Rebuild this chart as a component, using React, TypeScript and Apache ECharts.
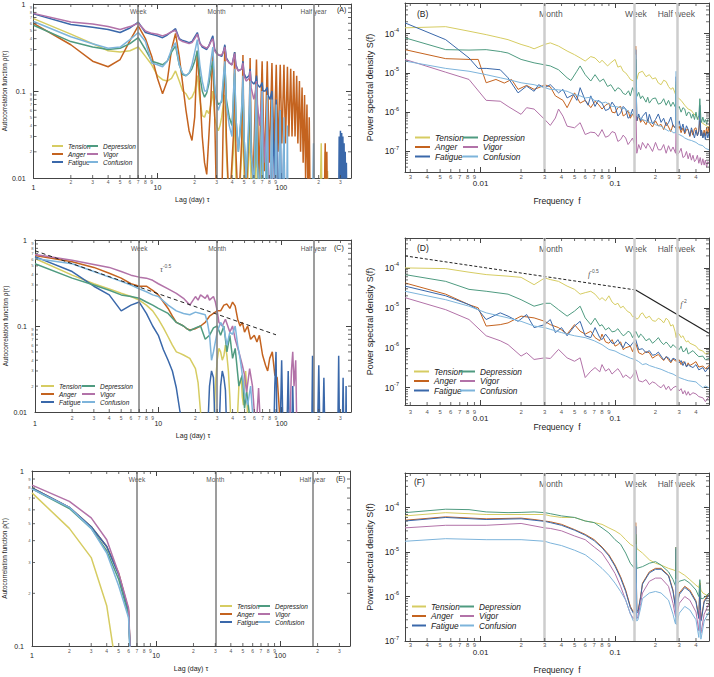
import React, { useEffect, useRef } from 'react';
import * as echarts from 'echarts';

type Pt = [number, number];

const moodNames = ['Tension', 'Anger', 'Fatigue', 'Depression', 'Vigor', 'Confusion'];
const moodColors = ['#d6cc62', '#c4631f', '#3a68aa', '#4f9b80', '#b272a8', '#7db4db'];

const acfRefLags = [7, 30, 182];
const acfRefLabels = ['Week', 'Month', 'Half year'];
const psdRefFreqs = [1 / 30, 1 / 7, 2 / 7];
const psdRefLabels = ['Month', 'Week', 'Half week'];

const lagDecades = [1, 10, 100];
const freqDecades = [0.001, 0.01, 0.1];
const minorDigits = [2, 3, 4, 5, 6, 7, 8, 9];
const acfYDecades = [0.01, 0.1];
const acfEYDecades = [0.1];
const psdYDecades = [1e-8, 1e-7, 1e-6, 1e-5, 1e-4];

// ---------- Panel A: autocorrelation (raw) ----------
const rawTension: Pt[] = [[1,0.68],[2,0.45],[3,0.35],[4,0.29],[5,0.28],[6,0.29],[7,0.32],[8,0.25],[9,0.2],[10,0.15],[11,0.135],[12,0.13],[13,0.14],[14,0.17],[15,0.13],[16,0.1],[17,0.093],[18,0.08],[19,0.085],[20,0.1],[21,0.15],[22,0.08],[23,0.052],[24,0.05],[25,0.06],[26,0.055],[27,0.07],[28,0.1],[29,0.05],[30,0.04],[31,0.035],[32,0.04],[33,0.05],[34,0.07],[35,0.09],[36,0.02],[38,0.004],[41,0.02],[42,0.07],[43,0.01],[45,0.004],[48,0.02],[49,0.065],[50,0.01],[52,0.004],[55,0.02],[56,0.055],[57,0.008],[60,0.004],[62,0.015],[63,0.05],[64,0.006],[67,0.004],[70,0.03],[71,0.004],[205,0.004],[210,0.025],[213,0.004],[222,0.005],[226,0.02],[229,0.004],[236,0.012],[240,0.004]];
const rawAnger: Pt[] = [[1,0.6],[2,0.34],[3,0.22],[4,0.19],[5,0.23],[6,0.38],[7,0.56],[8,0.4],[9,0.25],[10,0.14],[11,0.093],[12,0.13],[13,0.3],[14,0.46],[15,0.25],[16,0.12],[17,0.06],[18,0.035],[19,0.027],[20,0.05],[21,0.29],[22,0.1],[23,0.03],[24,0.015],[25,0.011],[26,0.03],[27,0.08],[28,0.3],[29,0.05],[30,0.005],[33,0.004],[34,0.05],[35,0.33],[36,0.03],[38,0.004],[41,0.03],[42,0.28],[43,0.02],[45,0.004],[48,0.03],[49,0.26],[50,0.02],[52,0.006],[55,0.04],[56,0.24],[57,0.03],[59,0.008],[63,0.23],[66,0.01],[70,0.22],[73,0.012],[77,0.22],[80,0.015],[84,0.21],[87,0.018],[91,0.2],[94,0.02],[98,0.2],[101,0.025],[105,0.2],[108,0.025],[112,0.19],[115,0.03],[119,0.18],[122,0.03],[126,0.17],[129,0.03],[133,0.15],[136,0.025],[140,0.13],[143,0.02],[147,0.11],[150,0.015],[154,0.09],[157,0.01],[161,0.07],[164,0.006],[168,0.05],[171,0.004],[222,0.005],[226,0.025],[229,0.004],[233,0.02],[236,0.004]];
const rawFatigue: Pt[] = [[1,0.77],[2,0.58],[3,0.54],[4,0.51],[5,0.47],[6,0.53],[7,0.62],[8,0.47],[9,0.45],[10,0.43],[11,0.41],[12,0.44],[13,0.48],[14,0.52],[15,0.4],[16,0.38],[17,0.37],[18,0.36],[19,0.37],[20,0.42],[21,0.47],[22,0.36],[23,0.32],[24,0.31],[25,0.3],[26,0.33],[27,0.38],[28,0.43],[29,0.3],[30,0.28],[31,0.26],[33,0.25],[34,0.28],[35,0.34],[36,0.24],[38,0.21],[40,0.2],[42,0.28],[43,0.2],[45,0.17],[48,0.18],[49,0.22],[50,0.16],[52,0.14],[55,0.15],[56,0.18],[57,0.13],[60,0.12],[62,0.13],[63,0.15],[64,0.12],[67,0.11],[70,0.125],[71,0.1],[74,0.1],[77,0.11],[78,0.09],[81,0.08],[84,0.1],[86,0.03],[88,0.01],[91,0.08],[93,0.01],[95,0.005],[98,0.06],[100,0.005],[102,0.004],[105,0.03],[107,0.004],[290,0.004],[293,0.03],[296,0.004],[300,0.035],[303,0.004],[307,0.033],[310,0.004],[314,0.03],[317,0.004],[321,0.025],[324,0.004],[328,0.02],[331,0.004],[335,0.015],[338,0.004]];
const rawDepression: Pt[] = [[1,0.57],[2,0.37],[3,0.32],[4,0.3],[5,0.31],[6,0.35],[7,0.41],[8,0.3],[9,0.22],[10,0.21],[11,0.2],[12,0.22],[13,0.28],[14,0.33],[15,0.2],[16,0.155],[17,0.15],[18,0.16],[19,0.18],[20,0.22],[21,0.29],[22,0.15],[23,0.1],[24,0.085],[25,0.095],[26,0.12],[27,0.17],[28,0.22],[29,0.1],[30,0.08],[31,0.07],[33,0.075],[34,0.12],[35,0.2],[36,0.08],[38,0.05],[40,0.04],[41,0.08],[42,0.16],[43,0.05],[45,0.02],[48,0.06],[49,0.13],[50,0.03],[52,0.01],[55,0.04],[56,0.1],[57,0.02],[60,0.007],[62,0.03],[63,0.08],[64,0.015],[67,0.006],[69,0.02],[70,0.06],[71,0.01],[74,0.005],[76,0.015],[77,0.05],[78,0.008],[81,0.005],[83,0.01],[84,0.03],[85,0.006],[88,0.004],[90,0.008],[91,0.02],[92,0.004],[95,0.004]];
const rawVigor: Pt[] = [[1,0.78],[2,0.62],[3,0.59],[4,0.55],[5,0.51],[6,0.55],[7,0.6],[8,0.49],[9,0.46],[10,0.45],[11,0.43],[12,0.45],[13,0.48],[14,0.5],[15,0.39],[16,0.37],[17,0.36],[18,0.35],[19,0.36],[20,0.4],[21,0.45],[22,0.35],[23,0.33],[24,0.32],[25,0.31],[26,0.33],[27,0.37],[28,0.4],[29,0.29],[30,0.27],[31,0.26],[33,0.26],[34,0.28],[35,0.32],[36,0.23],[38,0.21],[40,0.2],[42,0.27],[43,0.19],[45,0.17],[48,0.18],[49,0.21],[50,0.15],[52,0.13],[55,0.14],[56,0.17],[57,0.11],[60,0.08],[62,0.1],[63,0.13],[64,0.07],[67,0.04],[69,0.07],[70,0.1],[71,0.04],[74,0.015],[76,0.04],[77,0.07],[78,0.02],[81,0.005],[83,0.02],[84,0.05],[85,0.01],[88,0.004],[90,0.015],[91,0.035],[92,0.005],[95,0.004]];
const rawConfusion: Pt[] = [[1,0.63],[2,0.42],[3,0.35],[4,0.31],[5,0.32],[6,0.39],[7,0.47],[8,0.37],[9,0.21],[10,0.2],[11,0.19],[12,0.22],[13,0.3],[14,0.36],[15,0.2],[16,0.16],[17,0.15],[18,0.16],[19,0.2],[20,0.28],[21,0.39],[22,0.2],[23,0.13],[24,0.1],[25,0.1],[26,0.14],[27,0.22],[28,0.32],[29,0.12],[30,0.07],[31,0.06],[33,0.08],[34,0.14],[35,0.22],[36,0.07],[38,0.04],[40,0.03],[41,0.09],[42,0.18],[43,0.05],[45,0.02],[48,0.07],[49,0.15],[50,0.03],[52,0.01],[55,0.06],[56,0.13],[57,0.02],[60,0.008],[62,0.05],[63,0.12],[64,0.015],[67,0.006],[69,0.04],[70,0.1],[71,0.01],[74,0.005],[76,0.035],[77,0.09],[78,0.008],[81,0.005],[83,0.03],[84,0.08],[85,0.006],[88,0.004],[90,0.025],[91,0.07],[92,0.005],[95,0.004],[97,0.02],[98,0.06],[99,0.005],[102,0.004],[104,0.015],[105,0.05],[106,0.004],[109,0.003],[111,0.01],[112,0.04],[113,0.004],[116,0.003],[178,0.004],[182,0.025],[185,0.004]];

// ---------- Panel C: autocorrelation ----------
const smTension: Pt[] = [[1,0.61],[2,0.39],[3,0.31],[4,0.27],[5,0.24],[6,0.22],[7,0.2],[8,0.175],[9,0.15],[10,0.12],[11,0.095],[12,0.075],[13,0.06],[14,0.05],[15,0.048],[16,0.046],[18,0.042],[20,0.032],[21,0.022],[22,0.01],[23,0.006],[28,0.005],[29,0.02],[30,0.04],[31,0.055],[32,0.05],[33,0.04],[34,0.045],[35,0.06],[36,0.045],[37,0.03],[38,0.015],[39,0.006],[43,0.005],[45,0.02],[47,0.025],[48,0.015],[49,0.012],[51,0.03],[52,0.02],[53,0.008],[55,0.004]];
const smAnger: Pt[] = [[1,0.66],[2,0.56],[3,0.48],[4,0.41],[5,0.36],[6,0.31],[7,0.29],[8,0.29],[9,0.26],[10,0.23],[11,0.19],[12,0.16],[13,0.13],[14,0.11],[15,0.105],[16,0.1],[17,0.093],[18,0.09],[20,0.093],[22,0.1],[24,0.11],[26,0.13],[28,0.14],[30,0.15],[32,0.15],[34,0.175],[36,0.18],[38,0.16],[40,0.19],[42,0.17],[44,0.12],[46,0.1],[48,0.11],[50,0.085],[53,0.1],[56,0.07],[60,0.078],[63,0.065],[66,0.078],[70,0.046],[74,0.035],[77,0.03],[80,0.042],[84,0.05],[88,0.027],[92,0.025],[96,0.01],[98,0.005]];
const smFatigue: Pt[] = [[1,0.64],[2,0.43],[3,0.29],[4,0.23],[5,0.15],[6,0.175],[7,0.19],[8,0.14],[9,0.1],[10,0.078],[11,0.053],[12,0.04],[13,0.03],[14,0.019],[15,0.01],[16,0.006],[25,0.005],[26,0.02],[27,0.03],[28,0.025],[29,0.005],[31,0.005],[32,0.02],[33,0.03],[34,0.025],[35,0.018],[36,0.005],[86,0.004],[88,0.02],[90,0.05],[92,0.004],[97,0.005],[100,0.04],[103,0.004],[110,0.005],[113,0.03],[116,0.004],[120,0.004],[123,0.02],[126,0.004],[175,0.004],[178,0.045],[181,0.004],[195,0.005],[200,0.035],[205,0.004],[215,0.005],[220,0.025],[225,0.004],[285,0.005],[290,0.045],[295,0.004],[310,0.005],[315,0.025],[320,0.004],[330,0.005],[333,0.02],[336,0.004]];
const smDepression: Pt[] = [[1,0.53],[2,0.36],[3,0.3],[4,0.26],[5,0.23],[6,0.22],[7,0.21],[8,0.19],[9,0.175],[10,0.16],[12,0.14],[14,0.11],[16,0.1],[18,0.088],[20,0.095],[22,0.1],[24,0.07],[26,0.078],[28,0.095],[30,0.1],[32,0.078],[34,0.1],[36,0.05],[38,0.078],[40,0.042],[42,0.055],[45,0.02],[48,0.027],[50,0.011],[52,0.017],[55,0.009],[58,0.004]];
const smVigor: Pt[] = [[1,0.68],[2,0.58],[3,0.52],[4,0.48],[5,0.43],[6,0.39],[7,0.37],[8,0.36],[9,0.34],[10,0.31],[12,0.27],[14,0.24],[16,0.21],[18,0.175],[20,0.22],[21,0.2],[22,0.23],[24,0.21],[25,0.23],[26,0.2],[28,0.22],[29,0.19],[30,0.15],[31,0.11],[33,0.1],[35,0.12],[38,0.085],[40,0.1],[42,0.07],[45,0.05],[48,0.035],[50,0.027],[52,0.017],[55,0.032],[58,0.02],[60,0.01],[62,0.006],[65,0.019],[67,0.008],[70,0.004],[115,0.004],[120,0.03],[123,0.05],[126,0.02],[130,0.04],[133,0.005],[140,0.004]];
const smConfusion: Pt[] = [[1,0.61],[2,0.53],[3,0.43],[4,0.37],[5,0.33],[6,0.3],[7,0.27],[8,0.25],[9,0.23],[10,0.22],[12,0.175],[14,0.15],[16,0.14],[18,0.135],[20,0.145],[22,0.14],[24,0.135],[25,0.11],[26,0.08],[27,0.04],[28,0.05],[30,0.085],[32,0.11],[34,0.095],[36,0.06],[38,0.085],[40,0.08],[42,0.1],[44,0.06],[46,0.042],[48,0.027],[50,0.017],[53,0.012],[56,0.02],[58,0.01],[60,0.005]];
const fitC: Pt[] = [[1,0.75],[90,0.079]];

// ---------- Panel E: autocorrelation ----------
const acTension: Pt[] = [[1,0.75],[2,0.47],[3,0.32],[4,0.17],[5,0.06],[6,0.01]];
const acAnger: Pt[] = [[1,0.8],[2,0.62],[3,0.48],[4,0.37],[5,0.26],[6,0.16],[7,0.01]];
const acFatigue: Pt[] = [[1,0.8],[2,0.62],[3,0.48],[4,0.37],[5,0.255],[6,0.157],[7,0.01]];
const acDepression: Pt[] = [[1,0.79],[2,0.61],[3,0.47],[4,0.35],[5,0.24],[6,0.15],[7,0.01]];
const acVigor: Pt[] = [[1,0.83],[2,0.67],[3,0.54],[4,0.405],[5,0.26],[6,0.165],[7,0.01]];
const acConfusion: Pt[] = [[1,0.79],[2,0.62],[3,0.47],[4,0.34],[5,0.22],[6,0.145],[7,0.01]];

// ---------- Panel B: power spectral density ----------
const psdBTension: Pt[] = [[0.00274,1.4e-4],[0.0055,1.5e-4],[0.0082,1.15e-4],[0.011,9.4e-5],[0.014,7.8e-5],[0.016,7e-5],[0.02,5.3e-5],[0.023,4.6e-5],[0.025,4.1e-5],[0.03,5.3e-5],[0.033,5.8e-5],[0.038,4.8e-5],[0.044,3.6e-5],[0.05,2.9e-5],[0.055,2.4e-5],[0.06,2e-5],[0.066,2.6e-5],[0.071,2.4e-5],[0.077,1.8e-5],[0.08,2.1e-5],[0.088,1.5e-5],[0.093,1.8e-5],[0.1,2.2e-5],[0.105,1.4e-5],[0.11,1.5e-5],[0.115,1.1e-5],[0.12,1e-5],[0.126,8e-6],[0.13,6.8e-6],[0.137,6.2e-6],[0.1397,6.5e-6],[0.1425,2.2e-5],[0.1452,6.8e-6],[0.15,1e-5],[0.16,1.1e-5],[0.17,8e-6],[0.18,9e-6],[0.19,7e-6],[0.2,7.5e-6],[0.21,5.5e-6],[0.22,5e-6],[0.23,6.5e-6],[0.24,6e-6],[0.25,4.5e-6],[0.26,3.8e-6],[0.27,4.2e-6],[0.2822,2.8e-6],[0.2849,6e-6],[0.2877,2.5e-6],[0.3,2.2e-6],[0.31,2e-6],[0.33,1.5e-6],[0.35,1.2e-6],[0.37,1.1e-6],[0.38,9.6e-7],[0.4,8e-7],[0.42,6.5e-7],[0.44,5.5e-7],[0.46,4.9e-7],[0.48,4.5e-7],[0.5,4e-7]];
const psdBAnger: Pt[] = [[0.00274,3.9e-5],[0.0055,2.3e-5],[0.0082,2.2e-5],[0.0096,2.2e-5],[0.011,5.6e-6],[0.013,6.8e-6],[0.015,5.5e-6],[0.017,6.8e-6],[0.019,3.8e-6],[0.022,4.8e-6],[0.025,3.8e-6],[0.028,4.4e-6],[0.03,5e-6],[0.033,4.4e-6],[0.036,2.6e-6],[0.041,2e-6],[0.044,1.3e-6],[0.05,3.1e-6],[0.055,1.7e-6],[0.06,2e-6],[0.066,1.3e-6],[0.071,1.9e-6],[0.075,1.6e-6],[0.08,1.2e-6],[0.085,1.5e-6],[0.09,1.7e-6],[0.095,1e-6],[0.1,9.6e-7],[0.105,1.3e-6],[0.11,1.4e-6],[0.115,8e-7],[0.12,8.8e-7],[0.125,1.1e-6],[0.13,7e-7],[0.135,9e-7],[0.1397,7e-7],[0.1425,4.8e-5],[0.1452,6e-7],[0.15,8e-7],[0.155,5.5e-7],[0.16,6.5e-7],[0.17,4.8e-7],[0.175,6.5e-7],[0.18,5.4e-7],[0.19,4.2e-7],[0.2,6e-7],[0.21,4.5e-7],[0.22,4.9e-7],[0.23,3.6e-7],[0.24,5.5e-7],[0.25,4.2e-7],[0.26,3.2e-7],[0.27,4.8e-7],[0.2822,3.8e-7],[0.2849,3e-6],[0.2877,3.5e-7],[0.3,4.4e-7],[0.31,3e-7],[0.32,4e-7],[0.33,2.8e-7],[0.34,3.6e-7],[0.35,3.6e-7],[0.36,2.4e-7],[0.37,3.5e-7],[0.38,2.6e-7],[0.39,3.8e-7],[0.4,4e-7],[0.41,2.5e-7],[0.42,3.5e-7],[0.4274,6e-7],[0.435,2.5e-7],[0.44,3.3e-7],[0.45,2.3e-7],[0.46,3.5e-7],[0.47,2.5e-7],[0.48,4e-7],[0.49,2.8e-7],[0.5,4.4e-7]];
const psdBFatigue: Pt[] = [[0.00274,1.87e-4],[0.0055,7e-5],[0.0082,2.4e-5],[0.0096,1.3e-5],[0.011,1.3e-5],[0.014,1.2e-5],[0.016,7.5e-6],[0.019,3.1e-6],[0.022,4.6e-6],[0.025,3.4e-6],[0.027,5e-6],[0.03,4.2e-6],[0.033,5e-6],[0.038,3.1e-6],[0.041,3.8e-6],[0.044,2.3e-6],[0.049,2.8e-6],[0.052,2e-6],[0.055,4.2e-6],[0.06,2e-6],[0.063,1.5e-6],[0.066,2.6e-6],[0.071,1.4e-6],[0.075,2e-6],[0.08,1.7e-6],[0.085,1.1e-6],[0.09,1.2e-6],[0.095,1.8e-6],[0.1,1.4e-6],[0.105,8e-7],[0.11,9.6e-7],[0.115,1.4e-6],[0.12,1.2e-6],[0.125,7e-7],[0.13,7.8e-7],[0.135,1.2e-6],[0.1397,8e-7],[0.1425,3.9e-5],[0.1452,6e-7],[0.15,9e-7],[0.155,6e-7],[0.16,7.8e-7],[0.17,1e-6],[0.175,5.5e-7],[0.18,8.8e-7],[0.19,5e-7],[0.2,6.5e-7],[0.21,9e-7],[0.22,5.5e-7],[0.23,7e-7],[0.24,4.5e-7],[0.25,5.4e-7],[0.26,7.5e-7],[0.27,4.5e-7],[0.2822,4e-7],[0.2849,8e-6],[0.2877,4e-7],[0.3,6e-7],[0.31,3.5e-7],[0.32,5e-7],[0.33,3e-7],[0.34,4.5e-7],[0.35,3.6e-7],[0.36,2.5e-7],[0.37,4e-7],[0.38,3e-7],[0.39,2.2e-7],[0.4,3.5e-7],[0.41,2.5e-7],[0.42,3.2e-7],[0.4274,1.5e-6],[0.435,2.5e-7],[0.44,3.5e-7],[0.45,2.2e-7],[0.46,3e-7],[0.47,2e-7],[0.48,3.2e-7],[0.49,2.2e-7],[0.5,3e-7]];
const psdBDepression: Pt[] = [[0.00274,7.8e-5],[0.0055,3.9e-5],[0.0082,3.8e-5],[0.011,3.9e-5],[0.014,3.5e-5],[0.016,3.2e-5],[0.02,2.2e-5],[0.025,1.8e-5],[0.03,1.6e-5],[0.033,1.5e-5],[0.038,1.2e-5],[0.044,7.5e-6],[0.047,6.4e-6],[0.052,1.1e-5],[0.055,1.5e-5],[0.06,9e-6],[0.066,6.2e-6],[0.071,9e-6],[0.077,6e-6],[0.082,7e-6],[0.088,4.5e-6],[0.093,5e-6],[0.1,3.4e-6],[0.105,4.2e-6],[0.11,3.8e-6],[0.115,3e-6],[0.12,2.8e-6],[0.126,3.5e-6],[0.13,2.6e-6],[0.135,4.2e-6],[0.1397,3e-6],[0.1425,2.2e-5],[0.1452,2.5e-6],[0.15,3.2e-6],[0.155,2.2e-6],[0.16,2.6e-6],[0.17,1.8e-6],[0.175,2.4e-6],[0.18,1.7e-6],[0.19,2.2e-6],[0.2,2.3e-6],[0.21,1.6e-6],[0.22,1.7e-6],[0.23,2.2e-6],[0.24,1.5e-6],[0.25,2e-6],[0.26,1.4e-6],[0.27,1.8e-6],[0.2822,1.3e-6],[0.2849,5e-6],[0.2877,1.2e-6],[0.3,1.4e-6],[0.31,1e-6],[0.32,1.3e-6],[0.33,1.2e-6],[0.34,8e-7],[0.35,1e-6],[0.36,9.6e-7],[0.37,7e-7],[0.38,9e-7],[0.39,6.5e-7],[0.4,1e-6],[0.41,6.5e-7],[0.42,8e-7],[0.4274,2.2e-6],[0.435,7e-7],[0.44,5.5e-7],[0.45,7.5e-7],[0.46,5.5e-7],[0.47,6.5e-7],[0.48,5e-7],[0.49,6.5e-7],[0.5,7e-7]];
const psdBVigor: Pt[] = [[0.00274,2.2e-5],[0.0055,1.04e-5],[0.0082,6.8e-6],[0.011,2e-6],[0.014,1.9e-6],[0.016,1.4e-6],[0.02,8.8e-7],[0.022,1.3e-6],[0.025,1.2e-6],[0.03,6.5e-7],[0.033,4.6e-7],[0.036,7.1e-7],[0.038,1.2e-6],[0.041,7.9e-7],[0.044,4.4e-7],[0.05,4e-7],[0.055,5.4e-7],[0.06,2.7e-7],[0.066,3.1e-7],[0.071,3e-7],[0.075,2.4e-7],[0.08,3.6e-7],[0.085,2.3e-7],[0.09,2.5e-7],[0.095,3.2e-7],[0.1,3e-7],[0.105,1.8e-7],[0.11,2e-7],[0.115,2.6e-7],[0.12,2.2e-7],[0.125,1.5e-7],[0.13,1.8e-7],[0.135,2.2e-7],[0.1397,1.5e-7],[0.1425,2.5e-6],[0.1452,9e-8],[0.15,1.5e-7],[0.155,1.1e-7],[0.16,1.7e-7],[0.17,1.2e-7],[0.175,1.6e-7],[0.18,1.4e-7],[0.19,1e-7],[0.2,1.7e-7],[0.21,1.1e-7],[0.22,1.1e-7],[0.23,1.5e-7],[0.24,9e-8],[0.25,1.4e-7],[0.26,1e-7],[0.27,1.3e-7],[0.2822,9e-8],[0.2849,5e-7],[0.2877,8e-8],[0.3,9.3e-8],[0.31,1.2e-7],[0.32,7e-8],[0.33,7.5e-8],[0.34,1e-7],[0.35,6.5e-8],[0.36,9e-8],[0.37,6e-8],[0.38,8e-8],[0.39,5.5e-8],[0.4,6.2e-8],[0.41,8e-8],[0.42,5e-8],[0.43,7e-8],[0.44,4.5e-8],[0.45,6.5e-8],[0.46,4.5e-8],[0.47,6e-8],[0.48,4e-8],[0.49,5.5e-8],[0.5,5.1e-8]];
const psdBConfusion: Pt[] = [[0.00274,2e-5],[0.0055,1.3e-5],[0.0082,1.1e-5],[0.011,9e-6],[0.014,7.5e-6],[0.016,6.8e-6],[0.02,5.6e-6],[0.025,5e-6],[0.03,4.2e-6],[0.033,3.8e-6],[0.038,3.7e-6],[0.044,3.4e-6],[0.05,2.8e-6],[0.055,2.6e-6],[0.06,2.3e-6],[0.066,2.4e-6],[0.07,2e-6],[0.075,1.9e-6],[0.08,1.7e-6],[0.085,1.8e-6],[0.09,1.6e-6],[0.095,1.4e-6],[0.1,1.4e-6],[0.11,1.3e-6],[0.12,1.2e-6],[0.13,9.5e-7],[0.1397,8.8e-7],[0.1425,2.9e-5],[0.1452,8e-7],[0.15,7.5e-7],[0.16,6.5e-7],[0.17,6e-7],[0.18,5.4e-7],[0.19,5.5e-7],[0.2,4.8e-7],[0.21,4.5e-7],[0.22,4.4e-7],[0.23,3.9e-7],[0.24,3.6e-7],[0.25,3.3e-7],[0.26,3.5e-7],[0.27,3e-7],[0.2822,3e-7],[0.2849,1.1e-5],[0.2877,2.8e-7],[0.3,2.7e-7],[0.32,2.4e-7],[0.33,2.2e-7],[0.35,2e-7],[0.37,1.9e-7],[0.4,1.7e-7],[0.42,1.5e-7],[0.45,1.4e-7],[0.47,1.2e-7],[0.5,1.1e-7]];

// ---------- Panel D: power spectral density ----------
const psdDTension: Pt[] = [[0.00274,1e-4],[0.0055,9.6e-5],[0.0082,7.8e-5],[0.011,6.8e-5],[0.016,6.2e-5],[0.02,5.8e-5],[0.025,3.8e-5],[0.03,5.6e-5],[0.033,5.1e-5],[0.038,4.6e-5],[0.044,3.5e-5],[0.05,2.9e-5],[0.055,2.2e-5],[0.06,2.4e-5],[0.066,2.6e-5],[0.071,2.2e-5],[0.077,1.6e-5],[0.08,1.8e-5],[0.085,1.5e-5],[0.09,2e-5],[0.095,1.4e-5],[0.1,1.2e-5],[0.105,1.3e-5],[0.11,1e-5],[0.115,1.1e-5],[0.12,9.1e-6],[0.125,8e-6],[0.13,7.5e-6],[0.135,6e-6],[0.14,6.2e-6],[0.145,5.2e-6],[0.15,5.6e-6],[0.155,7e-6],[0.16,7.5e-6],[0.17,5.5e-6],[0.18,6.2e-6],[0.19,4.8e-6],[0.2,4.6e-6],[0.21,5.5e-6],[0.22,5e-6],[0.23,4.2e-6],[0.24,5.5e-6],[0.25,4.8e-6],[0.26,3.5e-6],[0.27,3.8e-6],[0.28,2.5e-6],[0.285,1.8e-6],[0.29,2.4e-6],[0.3,2.2e-6],[0.31,1.8e-6],[0.32,2e-6],[0.33,1.6e-6],[0.34,1.4e-6],[0.35,1.5e-6],[0.36,1.3e-6],[0.38,1.2e-6],[0.4,1.1e-6],[0.42,9e-7],[0.45,8.3e-7],[0.47,7e-7],[0.5,7.5e-7]];
const psdDAnger: Pt[] = [[0.00274,4.2e-5],[0.0055,2.2e-5],[0.0082,1.2e-5],[0.0096,1e-5],[0.011,3.5e-6],[0.014,3.8e-6],[0.016,4.2e-6],[0.02,6.2e-6],[0.025,5.6e-6],[0.03,4.6e-6],[0.033,3.8e-6],[0.038,3.2e-6],[0.044,2.2e-6],[0.05,3.8e-6],[0.055,2.6e-6],[0.06,2.2e-6],[0.066,2.6e-6],[0.071,1.8e-6],[0.077,1.5e-6],[0.08,2.2e-6],[0.085,1.4e-6],[0.09,1.3e-6],[0.095,1.6e-6],[0.1,1.1e-6],[0.105,1.2e-6],[0.11,1.4e-6],[0.115,9e-7],[0.12,1e-6],[0.13,1.1e-6],[0.135,8e-7],[0.1425,1.3e-6],[0.15,7.5e-7],[0.16,6.8e-7],[0.17,8e-7],[0.18,7.5e-7],[0.19,5.5e-7],[0.2,6.2e-7],[0.21,6.8e-7],[0.22,5.6e-7],[0.23,4.8e-7],[0.24,6e-7],[0.25,5e-7],[0.26,4.2e-7],[0.27,5.2e-7],[0.285,4.6e-7],[0.3,5e-7],[0.31,3.8e-7],[0.32,4.5e-7],[0.33,4.2e-7],[0.34,3.4e-7],[0.35,4.2e-7],[0.36,3.6e-7],[0.38,4e-7],[0.4,4.5e-7],[0.42,3.3e-7],[0.45,3.5e-7],[0.47,3e-7],[0.5,3.6e-7]];
const psdDFatigue: Pt[] = [[0.00274,3.5e-5],[0.0055,2e-5],[0.0082,1.2e-5],[0.0096,9e-6],[0.011,5.1e-6],[0.014,7.5e-6],[0.016,6.2e-6],[0.019,4.6e-6],[0.022,6.8e-6],[0.025,3.2e-6],[0.03,3.8e-6],[0.033,5.1e-6],[0.036,2.4e-6],[0.04,3.2e-6],[0.044,2e-6],[0.05,3.5e-6],[0.055,4.6e-6],[0.06,2e-6],[0.066,1.8e-6],[0.071,3.2e-6],[0.077,1.8e-6],[0.08,1.6e-6],[0.085,2.2e-6],[0.09,1.7e-6],[0.095,1.3e-6],[0.1,1.3e-6],[0.105,1.6e-6],[0.11,1.2e-6],[0.115,1e-6],[0.12,1.4e-6],[0.13,1.1e-6],[0.135,1.3e-6],[0.1425,1.6e-6],[0.15,9e-7],[0.16,9.5e-7],[0.17,7.5e-7],[0.18,8.5e-7],[0.19,6.5e-7],[0.2,6.8e-7],[0.21,7.8e-7],[0.22,6.2e-7],[0.23,5e-7],[0.24,6e-7],[0.25,5.6e-7],[0.26,4.5e-7],[0.27,5.5e-7],[0.285,5e-7],[0.3,4.2e-7],[0.31,4.8e-7],[0.32,3.6e-7],[0.33,4.5e-7],[0.34,3.3e-7],[0.35,3.8e-7],[0.36,3.5e-7],[0.38,3.2e-7],[0.4,3.8e-7],[0.42,2.8e-7],[0.45,3.2e-7],[0.47,2.5e-7],[0.5,3.3e-7]];
const psdDDepression: Pt[] = [[0.00274,6.8e-5],[0.0055,4.6e-5],[0.0082,2.9e-5],[0.011,2.6e-5],[0.016,2.2e-5],[0.02,1.6e-5],[0.025,1.1e-5],[0.03,1.3e-5],[0.033,1.3e-5],[0.038,9e-6],[0.044,6.2e-6],[0.05,8.3e-6],[0.055,1.1e-5],[0.06,5.6e-6],[0.066,3.8e-6],[0.071,5.5e-6],[0.077,3.5e-6],[0.08,3.8e-6],[0.085,2.8e-6],[0.09,3.2e-6],[0.095,2.5e-6],[0.1,2.6e-6],[0.105,3e-6],[0.11,2.4e-6],[0.115,2e-6],[0.12,2.2e-6],[0.125,2.6e-6],[0.13,2.4e-6],[0.135,1.8e-6],[0.1425,2.6e-6],[0.15,1.8e-6],[0.155,2.2e-6],[0.16,2e-6],[0.17,1.5e-6],[0.18,1.7e-6],[0.19,1.3e-6],[0.2,1.5e-6],[0.21,1.8e-6],[0.22,1.4e-6],[0.23,1.2e-6],[0.24,1.4e-6],[0.25,1.2e-6],[0.26,1e-6],[0.27,1.2e-6],[0.285,1e-6],[0.3,9e-7],[0.31,1.1e-6],[0.32,8e-7],[0.33,8.3e-7],[0.34,1e-6],[0.35,7e-7],[0.36,7.5e-7],[0.38,8.5e-7],[0.4,7e-7],[0.42,6e-7],[0.45,6.2e-7],[0.47,5e-7],[0.5,5.5e-7]];
const psdDVigor: Pt[] = [[0.00274,1.8e-5],[0.0055,9e-6],[0.0082,5.1e-6],[0.011,2e-6],[0.014,1.5e-6],[0.016,1.2e-6],[0.02,6.2e-7],[0.022,7.5e-7],[0.025,5.1e-7],[0.03,5.6e-7],[0.033,5.4e-7],[0.038,9.1e-7],[0.044,5.6e-7],[0.05,4.6e-7],[0.055,5.6e-7],[0.06,1.8e-7],[0.066,2.6e-7],[0.071,3.2e-7],[0.077,2.5e-7],[0.08,3.8e-7],[0.085,2.6e-7],[0.09,3e-7],[0.095,2.2e-7],[0.1,2.6e-7],[0.105,3e-7],[0.11,2.4e-7],[0.115,1.8e-7],[0.12,2.1e-7],[0.13,1.7e-7],[0.135,2e-7],[0.1425,2.8e-7],[0.15,1.5e-7],[0.16,1.4e-7],[0.17,1.6e-7],[0.18,1.2e-7],[0.19,1.4e-7],[0.2,1.3e-7],[0.21,1.1e-7],[0.22,1e-7],[0.23,1.2e-7],[0.24,9e-8],[0.25,1.1e-7],[0.26,8.5e-8],[0.27,1e-7],[0.285,1.1e-7],[0.3,8.3e-8],[0.31,9.5e-8],[0.32,7e-8],[0.33,8.5e-8],[0.34,6.5e-8],[0.35,8e-8],[0.36,6.5e-8],[0.38,7.5e-8],[0.4,7e-8],[0.42,6e-8],[0.45,5.6e-8],[0.47,4.5e-8],[0.5,6e-8]];
const psdDConfusion: Pt[] = [[0.00274,2.6e-5],[0.0055,1.6e-5],[0.0082,1.1e-5],[0.011,7.5e-6],[0.016,5.6e-6],[0.02,4.6e-6],[0.025,3.5e-6],[0.03,3.2e-6],[0.033,2.9e-6],[0.04,2.4e-6],[0.05,2e-6],[0.06,1.8e-6],[0.07,1.5e-6],[0.08,1.2e-6],[0.09,9.1e-7],[0.1,8.3e-7],[0.11,7e-7],[0.12,6.2e-7],[0.13,5.5e-7],[0.1425,5e-7],[0.15,4.5e-7],[0.16,3.8e-7],[0.17,4e-7],[0.18,3.6e-7],[0.2,3.2e-7],[0.22,2.9e-7],[0.25,2.4e-7],[0.27,2.2e-7],[0.3,1.8e-7],[0.33,1.6e-7],[0.35,1.5e-7],[0.4,1.4e-7],[0.42,1.2e-7],[0.45,1e-7],[0.47,1.1e-7],[0.5,1e-7]];
const fitDLow: Pt[] = [[0.00274,2e-4],[0.1425,2.8e-5]];
const fitDHigh: Pt[] = [[0.1425,2.8e-5],[0.5,2.3e-6]];

// ---------- Panel F: power spectral density ----------
const psdFTension: Pt[] = [[0.00274,6.5e-5],[0.0055,7.7e-5],[0.011,7e-5],[0.02,7e-5],[0.03,7e-5],[0.033,6.5e-5],[0.04,6e-5],[0.05,6e-5],[0.06,5e-5],[0.07,4.6e-5],[0.08,4.2e-5],[0.09,3.5e-5],[0.1,3e-5],[0.11,2.5e-5],[0.12,1.9e-5],[0.13,1.5e-5],[0.1397,1.3e-5],[0.1425,2.5e-5],[0.1452,1.2e-5],[0.16,9.5e-6],[0.18,6.7e-6],[0.2,5.6e-6],[0.22,5.1e-6],[0.25,4.3e-6],[0.27,4e-6],[0.2822,3.8e-6],[0.2849,6e-6],[0.2877,3.7e-6],[0.3,3.6e-6],[0.33,3e-6],[0.36,2.4e-6],[0.4,1.8e-6],[0.42,1.6e-6],[0.4274,2.2e-6],[0.435,1.4e-6],[0.45,1.2e-6],[0.5,1e-6]];
const psdFAnger: Pt[] = [[0.00274,5.2e-5],[0.0055,6.2e-5],[0.011,5.6e-5],[0.02,5.8e-5],[0.025,5.4e-5],[0.03,5e-5],[0.033,4.8e-5],[0.04,4.2e-5],[0.05,3.2e-5],[0.06,2.5e-5],[0.07,1.9e-5],[0.08,1.3e-5],[0.09,8.7e-6],[0.1,5.1e-6],[0.11,2.8e-6],[0.12,1.4e-6],[0.13,6e-7],[0.137,4.5e-7],[0.1397,5e-7],[0.1425,4.6e-5],[0.1452,5e-7],[0.148,4.6e-7],[0.155,1e-6],[0.16,2e-6],[0.18,3.6e-6],[0.2,4.3e-6],[0.22,4.3e-6],[0.25,3e-6],[0.27,1.4e-6],[0.2794,7e-7],[0.2822,5e-7],[0.2849,1.3e-5],[0.2877,5e-7],[0.2904,6.5e-7],[0.3,1.2e-6],[0.33,1.7e-6],[0.36,1.4e-6],[0.4,8e-7],[0.42,3.5e-7],[0.4274,2e-6],[0.435,3e-7],[0.44,3.5e-7],[0.46,8e-7],[0.5,1.2e-6]];
const psdFFatigue: Pt[] = [[0.00274,5e-5],[0.0055,6e-5],[0.011,5.4e-5],[0.02,5.6e-5],[0.025,5.2e-5],[0.03,4.9e-5],[0.033,4.6e-5],[0.04,4e-5],[0.05,3.1e-5],[0.06,2.4e-5],[0.07,1.8e-5],[0.08,1.25e-5],[0.09,8.2e-6],[0.1,4.8e-6],[0.11,2.6e-6],[0.12,1.3e-6],[0.13,5.6e-7],[0.137,4.2e-7],[0.1397,4.6e-7],[0.1425,3.8e-5],[0.1452,4.6e-7],[0.148,4.3e-7],[0.155,9.5e-7],[0.16,1.9e-6],[0.18,3.4e-6],[0.2,4.1e-6],[0.22,4.1e-6],[0.25,2.9e-6],[0.27,1.3e-6],[0.2794,6.5e-7],[0.2822,4.6e-7],[0.2849,1.2e-5],[0.2877,4.6e-7],[0.2904,6e-7],[0.3,1.1e-6],[0.33,1.6e-6],[0.36,1.3e-6],[0.4,7.5e-7],[0.42,3.2e-7],[0.4274,1.8e-6],[0.435,2.8e-7],[0.44,3.2e-7],[0.46,7.5e-7],[0.5,1.1e-6]];
const psdFDepression: Pt[] = [[0.00274,7.7e-5],[0.0055,9.2e-5],[0.0082,9e-5],[0.011,8e-5],[0.016,7.7e-5],[0.02,7.8e-5],[0.025,8e-5],[0.03,7.7e-5],[0.033,7.3e-5],[0.04,6.5e-5],[0.05,6e-5],[0.06,5e-5],[0.07,4.6e-5],[0.08,3.5e-5],[0.09,2.7e-5],[0.1,1.9e-5],[0.11,1.5e-5],[0.12,9.5e-6],[0.13,5.6e-6],[0.1397,4.3e-6],[0.1425,2.5e-5],[0.1452,4.3e-6],[0.16,4.7e-6],[0.18,5.6e-6],[0.2,6.1e-6],[0.22,5.1e-6],[0.25,3.6e-6],[0.27,2.4e-6],[0.2822,1.7e-6],[0.2849,1.3e-5],[0.2877,1.8e-6],[0.3,2.2e-6],[0.33,2.4e-6],[0.36,2e-6],[0.4,1.4e-6],[0.42,1e-6],[0.4274,2.4e-6],[0.435,9e-7],[0.45,9e-7],[0.47,1e-6],[0.5,1.2e-6]];
const psdFVigor: Pt[] = [[0.00274,3.5e-5],[0.0055,4e-5],[0.011,4e-5],[0.02,4.4e-5],[0.03,3.5e-5],[0.033,3.4e-5],[0.04,3e-5],[0.05,2.3e-5],[0.06,1.9e-5],[0.07,1.3e-5],[0.08,9.5e-6],[0.09,5.6e-6],[0.1,3.3e-6],[0.11,1.7e-6],[0.12,8.3e-7],[0.13,4.1e-7],[0.137,3.2e-7],[0.1397,3.5e-7],[0.1425,2e-6],[0.1452,3.2e-7],[0.148,3.5e-7],[0.155,7e-7],[0.16,1.2e-6],[0.18,2.2e-6],[0.2,2.6e-6],[0.22,2.6e-6],[0.25,1.7e-6],[0.27,7e-7],[0.2794,4e-7],[0.2822,3.5e-7],[0.2849,2e-6],[0.2877,3.3e-7],[0.2904,4e-7],[0.3,7e-7],[0.33,1e-6],[0.36,8.3e-7],[0.4,4.5e-7],[0.42,1.7e-7],[0.4274,5e-7],[0.435,1.5e-7],[0.44,1.8e-7],[0.46,4e-7],[0.5,7e-7]];
const psdFConfusion: Pt[] = [[0.00274,1.75e-5],[0.0055,2e-5],[0.011,1.9e-5],[0.02,1.9e-5],[0.03,1.75e-5],[0.033,1.6e-5],[0.04,1.4e-5],[0.05,1.1e-5],[0.06,8.7e-6],[0.07,6.1e-6],[0.08,4.3e-6],[0.09,3e-6],[0.1,2e-6],[0.11,1.3e-6],[0.12,8.3e-7],[0.13,4.1e-7],[0.137,2.8e-7],[0.1397,3e-7],[0.1425,1.5e-5],[0.1452,2.8e-7],[0.148,3e-7],[0.155,5.5e-7],[0.16,9e-7],[0.18,1.2e-6],[0.2,1.3e-6],[0.22,1.2e-6],[0.25,8.3e-7],[0.27,4e-7],[0.2794,2.6e-7],[0.2822,2.4e-7],[0.2849,2.5e-6],[0.2877,2.3e-7],[0.2904,2.6e-7],[0.3,4.2e-7],[0.33,6e-7],[0.36,5e-7],[0.4,3e-7],[0.42,1.2e-7],[0.4274,3e-7],[0.435,1.1e-7],[0.44,1.3e-7],[0.46,2.8e-7],[0.5,4.5e-7]];

const FONT = '"Liberation Sans", Arial, Helvetica, sans-serif';
const TXT = '#222';
const AX = '#444';

const smallF = { tick: 7, minor: 5, xname: 7, yname: 6.5, ref: 6.5, legend: 6.5, tag: 7 };
const bigF = { tick: 8, minor: 6, xname: 8.5, yname: 9, ref: 8.5, legend: 8.3, tag: 8.5 };

const panels = [
  { id: 'A', kind: 'acf', grid: { left: 33, top: 4, width: 318, height: 174 }, x: [1, 365], y: [0.01, 1], yDec: acfYDecades,
    data: [rawTension, rawAnger, rawFatigue, rawDepression, rawVigor, rawConfusion], lw: 1.5, f: smallF,
    tickMargin: 6, minorDist: 1.2, xNameGap: 18, yNameGap: 24, refDist: 3.5,
    legend: { top: 142.5, l1: 52, l2: 87, iw: 11, gap: 1, tg: 2 }, tag: { text: '(A)', x: 343, y: 10 } },
  { id: 'B', kind: 'psd', grid: { left: 405, top: 3, width: 304, height: 169 }, x: [1 / 365, 0.5], y: [3e-8, 6e-4], yDec: psdYDecades,
    data: [psdBTension, psdBAnger, psdBFatigue, psdBDepression, psdBVigor, psdBConfusion], lw: 1, f: bigF,
    tickMargin: 7, minorDist: 1.7, xNameGap: 24, yNameGap: 31, refDist: 6.5,
    legend: { top: 133.5, l1: 415, l2: 463, iw: 15, gap: 1.5, tg: 3 }, tag: { text: '(B)', x: 423, y: 15 } },
  { id: 'C', kind: 'acf', grid: { left: 35, top: 240, width: 316, height: 172 }, x: [1, 365], y: [0.01, 1], yDec: acfYDecades,
    data: [smTension, smAnger, smFatigue, smDepression, smVigor, smConfusion], lw: 1.5, f: smallF,
    tickMargin: 8, minorDist: 3, xNameGap: 20, yNameGap: 26, refDist: 4.5,
    legend: { top: 382.5, l1: 41, l2: 82, iw: 13, gap: 1, tg: 2 }, tag: { text: '(C)', x: 340, y: 248 } },
  { id: 'D', kind: 'psd', grid: { left: 405, top: 238, width: 304, height: 167 }, x: [1 / 365, 0.5], y: [3.7e-8, 5.6e-4], yDec: psdYDecades,
    data: [psdDTension, psdDAnger, psdDFatigue, psdDDepression, psdDVigor, psdDConfusion], lw: 1, f: bigF,
    tickMargin: 9, minorDist: 3.5, xNameGap: 17, yNameGap: 31, refDist: 6,
    legend: { top: 367.5, l1: 414, l2: 460, iw: 15, gap: 1.5, tg: 2 }, tag: { text: '(D)', x: 423, y: 249 } },
  { id: 'E', kind: 'acf', grid: { left: 32, top: 471, width: 318, height: 175 }, x: [1, 365], y: [0.1, 1], yDec: acfEYDecades,
    data: [acTension, acAnger, acFatigue, acDepression, acVigor, acConfusion], lw: 1.5, f: smallF,
    tickMargin: 5.5, minorDist: 2, xNameGap: 19, yNameGap: 24, refDist: 4.5,
    legend: { top: 602.5, l1: 220, l2: 258, iw: 12, gap: 1, tg: 2 }, tag: { text: '(E)', x: 342, y: 479 } },
  { id: 'F', kind: 'psd', grid: { left: 405, top: 473, width: 304, height: 168 }, x: [1 / 365, 0.5], y: [1e-7, 6e-4], yDec: psdYDecades,
    data: [psdFTension, psdFAnger, psdFFatigue, psdFDepression, psdFVigor, psdFConfusion], lw: 1, f: bigF,
    tickMargin: 7.5, minorDist: 1, xNameGap: 24, yNameGap: 31, refDist: 6,
    legend: { top: 602.5, l1: 412, l2: 460, iw: 14, gap: 1.5, tg: 3 }, tag: { text: '(F)', x: 420, y: 483 } },
];

function isPow10(v: number) {
  const l = Math.log10(v);
  return Math.abs(l - Math.round(l)) < 1e-6;
}
function fmtDecimal(v: number) {
  if (!isPow10(v)) return '';
  const e = Math.round(Math.log10(v));
  return e >= 0 ? String(Math.pow(10, e)) : Math.pow(10, e).toFixed(-e);
}
function fmtPower(v: number) {
  if (!isPow10(v)) return '';
  const e = Math.round(Math.log10(v));
  return `{b|10}{s|${e}}`;
}

function tickItems(p: any) {
  const items: any[] = [];
  const xDec = p.kind === 'acf' ? lagDecades : freqDecades;
  const [x0, x1] = p.x;
  const [y0, y1] = p.y;
  const eps = 1e-9;
  for (const d of xDec) {
    for (const k of minorDigits) {
      const v = d * k;
      if (v <= x0 * (1 + eps) || v >= x1 * (1 - eps)) continue;
      items.push({ value: [v, y0], symbolSize: [1, 3], symbolOffset: [0, -1.5] });
      items.push({ value: [v, y1], symbolSize: [1, 3], symbolOffset: [0, 1.5] });
      items.push({ value: [v, y0], symbolSize: 0,
        label: { show: true, formatter: String(k), position: 'bottom', distance: p.minorDist, fontSize: p.f.minor, color: TXT } });
    }
  }
  for (const d of p.yDec) {
    for (const k of minorDigits) {
      const v = d * k;
      if (v <= y0 * (1 + eps) || v >= y1 * (1 - eps)) continue;
      items.push({ value: [x0, v], symbolSize: [3, 1], symbolOffset: [1.5, 0] });
      items.push({ value: [x1, v], symbolSize: [3, 1], symbolOffset: [-1.5, 0] });
      if (p.kind === 'acf') {
        items.push({ value: [x0, v], symbolSize: 0,
          label: { show: true, formatter: String(k), position: 'left', distance: 1.5, fontSize: 4.2, lineHeight: 4, color: TXT } });
      }
    }
  }
  return items;
}

function buildOption() {
  const grid: any[] = [];
  const xAxis: any[] = [];
  const yAxis: any[] = [];
  const series: any[] = [];
  const legend: any[] = [];
  const graphic: any[] = [];

  panels.forEach((p, i) => {
    grid.push({ ...p.grid, show: false });
    const isAcf = p.kind === 'acf';
    xAxis.push({
      gridIndex: i, type: 'log', logBase: 10, min: p.x[0], max: p.x[1], position: 'bottom',
      axisLine: { show: true, onZero: false, lineStyle: { color: AX, width: 1 } },
      axisTick: { show: true, inside: true, length: 5, lineStyle: { color: AX } },
      axisLabel: { formatter: fmtDecimal, fontSize: p.f.tick, color: TXT, margin: p.tickMargin, fontFamily: FONT },
      splitLine: { show: false },
      name: isAcf ? 'Lag (day) τ' : 'Frequency  f', nameLocation: 'middle', nameGap: p.xNameGap,
      nameTextStyle: { fontSize: p.f.xname, color: TXT, fontFamily: FONT },
    });
    yAxis.push({
      gridIndex: i, type: 'log', logBase: 10, min: p.y[0], max: p.y[1], position: 'left',
      axisLine: { show: true, onZero: false, lineStyle: { color: AX, width: 1 } },
      axisTick: { show: true, inside: true, length: 5, lineStyle: { color: AX } },
      axisLabel: isAcf
        ? { formatter: fmtDecimal, fontSize: p.f.tick, color: TXT, margin: 8, fontFamily: FONT, lineHeight: 7 }
        : { formatter: fmtPower, color: TXT, margin: 6, fontFamily: FONT,
            rich: { b: { fontSize: p.f.tick + 0.5, color: TXT, fontFamily: FONT },
                    s: { fontSize: 5.5, color: TXT, fontFamily: FONT, padding: [0, 0, 7, 0] } } },
      splitLine: { show: false },
      name: isAcf ? 'Autocorrelation function ρ(τ)' : 'Power spectral density S(f)', nameLocation: 'middle', nameGap: p.yNameGap,
      nameRotate: 90, nameTextStyle: { fontSize: p.f.yname, color: TXT, fontFamily: FONT },
    });
  });
  panels.forEach((p, i) => {
    xAxis.push({
      gridIndex: i, type: 'log', logBase: 10, min: p.x[0], max: p.x[1], position: 'top',
      axisLine: { show: true, onZero: false, lineStyle: { color: AX, width: 1 } },
      axisTick: { show: true, inside: true, length: 5, lineStyle: { color: AX } },
      axisLabel: { show: false }, splitLine: { show: false },
    });
    yAxis.push({
      gridIndex: i, type: 'log', logBase: 10, min: p.y[0], max: p.y[1], position: 'right',
      axisLine: { show: true, onZero: false, lineStyle: { color: AX, width: 1 } },
      axisTick: { show: true, inside: true, length: 5, lineStyle: { color: AX } },
      axisLabel: { show: false }, splitLine: { show: false },
    });
  });

  panels.forEach((p, i) => {
    const isAcf = p.kind === 'acf';
    const refVals = isAcf ? acfRefLags : psdRefFreqs;
    const refLabels = isAcf ? acfRefLabels : psdRefLabels;
    series.push({
      name: 'ref' + p.id, type: 'scatter', xAxisIndex: i, yAxisIndex: i, silent: true, clip: false, z: 2,
      data: refVals.map((v, j) => [v, p.y[1], refLabels[j]]), symbolSize: 0,
      label: { show: true, position: 'bottom', distance: p.refDist, fontSize: p.f.ref, color: TXT, fontFamily: FONT,
        formatter: (q: any) => q.value[2] },
      markLine: {
        silent: true, symbol: ['none', 'none'], label: { show: false }, animation: false,
        lineStyle: { color: isAcf ? '#7d7d7d' : '#cdcdcd', width: isAcf ? 1.5 : 2.5, type: 'solid', opacity: 1 },
        emphasis: { disabled: true },
        data: refVals.map((v) => ({ xAxis: v })),
      },
    });
    p.data.forEach((d, k) => {
      series.push({
        name: moodNames[k], type: 'line', xAxisIndex: i, yAxisIndex: i, data: d, symbol: 'none', showSymbol: false,
        lineStyle: { width: p.lw, color: moodColors[k] }, itemStyle: { color: moodColors[k] }, clip: true, z: 3, silent: true,
      });
    });
    series.push({
      name: 'ticks' + p.id, type: 'scatter', xAxisIndex: i, yAxisIndex: i, data: tickItems(p), symbol: 'rect',
      itemStyle: { color: AX }, clip: false, silent: true, z: 5,
      label: { fontFamily: FONT },
    });
    const lg = p.legend;
    [[0, 1, 2], [3, 4, 5]].forEach((cols, c) => {
      legend.push({
        data: cols.map((k) => moodNames[k]), orient: 'vertical', left: c === 0 ? lg.l1 : lg.l2, top: lg.top,
        itemGap: lg.gap, itemWidth: lg.iw, itemHeight: 2, itemTextGap: lg.tg, icon: 'rect', selectedMode: false, padding: 0,
        textStyle: { fontStyle: 'italic', fontSize: p.f.legend, color: TXT, fontFamily: FONT },
      });
    });
    graphic.push({ type: 'text', left: p.tag.x - 6, top: p.tag.y - p.f.tag / 2 - 1,
      style: { text: p.tag.text, fontSize: p.f.tag, fill: TXT, fontFamily: FONT } });
  });

  // fitted power laws (C, D)
  series.push({ name: 'fitC', type: 'line', xAxisIndex: 2, yAxisIndex: 2, data: fitC, symbol: 'none', silent: true,
    lineStyle: { color: '#222', width: 1, type: [4, 3] }, z: 4 });
  series.push({ name: 'fitDLow', type: 'line', xAxisIndex: 3, yAxisIndex: 3, data: fitDLow, symbol: 'none', silent: true,
    lineStyle: { color: '#222', width: 1, type: [3, 2] }, z: 4 });
  series.push({ name: 'fitDHigh', type: 'line', xAxisIndex: 3, yAxisIndex: 3, data: fitDHigh, symbol: 'none', silent: true,
    lineStyle: { color: '#222', width: 1.2, type: 'solid' }, z: 4 });
  const annRich = {
    i: { fontSize: 8, fontStyle: 'italic', color: TXT, fontFamily: 'Liberation Serif, serif' },
    s: { fontSize: 5, color: TXT, fontFamily: FONT, padding: [0, 0, 7, 0] },
  };
  series.push({ name: 'annC', type: 'scatter', xAxisIndex: 2, yAxisIndex: 2, symbolSize: 0, silent: true, clip: false,
    data: [[10.3, 0.45]],
    label: { show: true, position: 'right', distance: 0, formatter: '{i|τ}{s|-0.5}', rich: annRich } });
  series.push({ name: 'annD', type: 'scatter', xAxisIndex: 3, yAxisIndex: 3, symbolSize: 0, silent: true, clip: false,
    data: [[0.063, 6.7e-5, 'a'], [0.305, 1.2e-5, 'b']],
    label: { show: true, position: 'right', distance: 0, rich: annRich,
      formatter: (q: any) => (q.value[2] === 'a' ? '{i|f}{s|-0.5}' : '{i|f}{s|-2}') } });

  return {
    animation: false,
    backgroundColor: '#ffffff',
    textStyle: { fontFamily: FONT },
    grid, xAxis, yAxis, series, legend, graphic,
  };
}

export default function App() {
  const ref = useRef<HTMLDivElement>(null);
  useEffect(() => {
    document.body.style.margin = '0';
    if (!ref.current) return;
    const chart = echarts.init(ref.current, undefined, { renderer: 'svg' });
    chart.setOption(buildOption() as any);
    return () => chart.dispose();
  }, []);
  return <div ref={ref} style={{ width: 714, height: 677 }} />;
}
